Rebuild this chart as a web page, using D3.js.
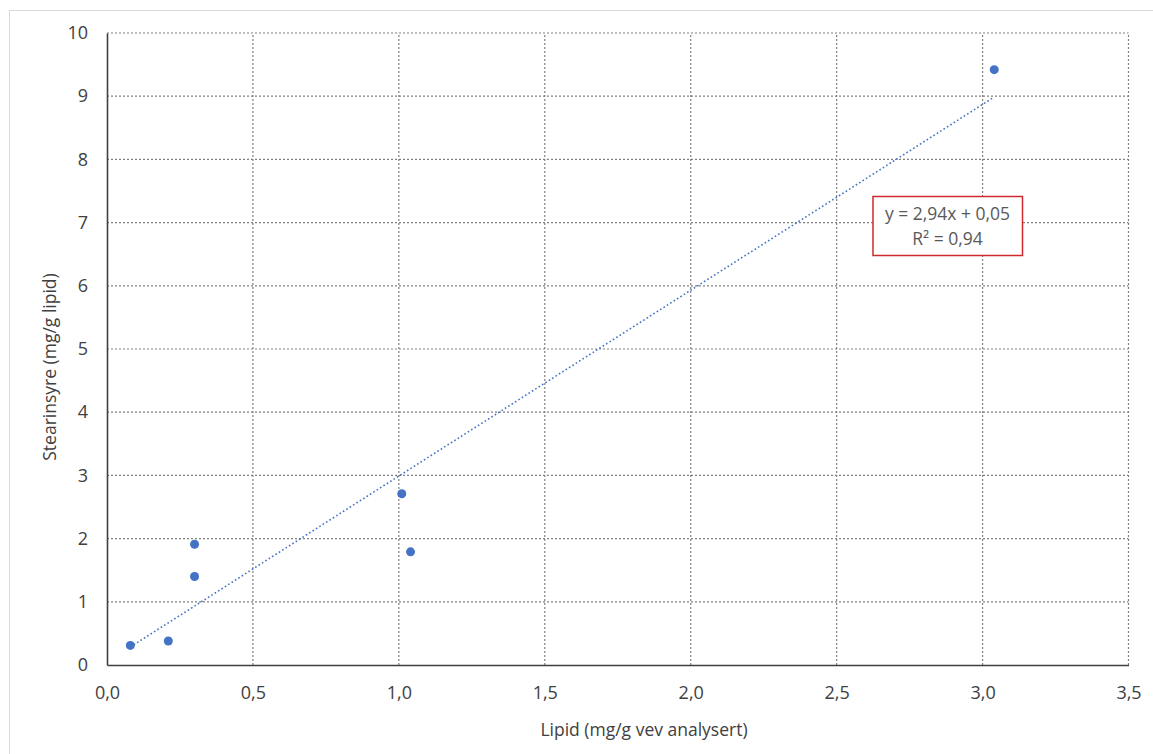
<!DOCTYPE html>
<html>
<head>
<meta charset="utf-8">
<script src="https://cdn.jsdelivr.net/npm/d3@7"></script>
<style>
  body { margin: 0; background: #fff; }
  text { font-family: "Open Sans", sans-serif; fill: #404040; }
</style>
</head>
<body>
<svg id="chart" width="1153" height="754"></svg>
<script>
// data
var lipid = [0.08, 0.21, 0.30, 0.30, 1.01, 1.04, 3.04]
var stearinsyre = [0.31, 0.38, 1.40, 1.91, 2.71, 1.79, 9.42]
var xTicks = [0, 0.5, 1.0, 1.5, 2.0, 2.5, 3.0, 3.5]
var yTicks = [0, 1, 2, 3, 4, 5, 6, 7, 8, 9, 10]
var slope = 2.94, intercept = 0.05
var eqLines = ["y = 2,94x + 0,05", "R² = 0,94"]

var svg = d3.select("#chart")

// chart area border
svg.append("rect")
  .attr("x", 9.5).attr("y", 10.5)
  .attr("width", 1160).attr("height", 760)
  .attr("fill", "none").attr("stroke", "#d9d9d9")

var x = d3.scaleLinear().domain([0, 3.5]).range([107, 1128.5])
var y = d3.scaleLinear().domain([0, 10]).range([665, 33])

var fmt = d => d3.format(".1f")(d).replace(".", ",")

// grid
var grid = svg.append("g")
grid.selectAll(".gx").data(xTicks.slice(1))
  .enter().append("line")
  .attr("x1", d => x(d)).attr("x2", d => x(d))
  .attr("y1", y(0)).attr("y2", y(10))
  .attr("stroke", "#808080").attr("stroke-width", 1.2)
  .attr("stroke-dasharray", "2,2")
grid.selectAll(".gy").data(yTicks.slice(1))
  .enter().append("line")
  .attr("x1", x(0)).attr("x2", x(3.5))
  .attr("y1", d => y(d)).attr("y2", d => y(d))
  .attr("stroke", "#808080").attr("stroke-width", 1.2)
  .attr("stroke-dasharray", "2,2")

// axes
var xAxis = svg.append("g")
  .attr("transform", "translate(0," + y(0) + ")")
  .call(d3.axisBottom(x).tickValues(xTicks).tickFormat(fmt).tickSize(0).tickPadding(21))
var yAxis = svg.append("g")
  .attr("transform", "translate(" + x(0) + ",0)")
  .call(d3.axisLeft(y).tickValues(yTicks).tickSize(0).tickPadding(19))
;[xAxis, yAxis].forEach(function(a) {
  a.select(".domain").attr("stroke", "#404040").attr("stroke-width", 1.6)
  a.selectAll("text").attr("font-size", 18).attr("fill", "#404040")
    .style("font-family", "'Open Sans', sans-serif")
})

// trendline
var xr = d3.extent(lipid)
svg.append("line")
  .attr("x1", x(xr[0])).attr("y1", y(slope * xr[0] + intercept))
  .attr("x2", x(xr[1])).attr("y2", y(slope * xr[1] + intercept))
  .attr("stroke", "#4472c4").attr("stroke-width", 1.6)
  .attr("stroke-dasharray", "1.6,2.4")

// points
svg.append("g").selectAll("circle")
  .data(lipid.map((d, i) => [d, stearinsyre[i]]))
  .enter().append("circle")
  .attr("cx", d => x(d[0])).attr("cy", d => y(d[1]))
  .attr("r", 4.5).attr("fill", "#4472c4")

// equation label
svg.append("rect")
  .attr("x", 873).attr("y", 196.5)
  .attr("width", 149.5).attr("height", 59)
  .attr("fill", "#fff").attr("stroke", "#d0282d").attr("stroke-width", 1.5)
svg.append("g").selectAll("text")
  .data(eqLines)
  .enter().append("text")
  .attr("x", 947.5).attr("y", (d, i) => 220 + i * 25)
  .attr("text-anchor", "middle")
  .attr("font-size", 17.5).style("fill", "#595959")
  .text(d => d)

// axis titles
svg.append("text")
  .attr("x", 644).attr("y", 736)
  .attr("text-anchor", "middle").attr("font-size", 17.5)
  .text("Lipid (mg/g vev analysert)")
svg.append("text")
  .attr("transform", "translate(56,367) rotate(-90)")
  .attr("text-anchor", "middle").attr("font-size", 17.5)
  .text("Stearinsyre (mg/g lipid)")
</script>
</body>
</html>
